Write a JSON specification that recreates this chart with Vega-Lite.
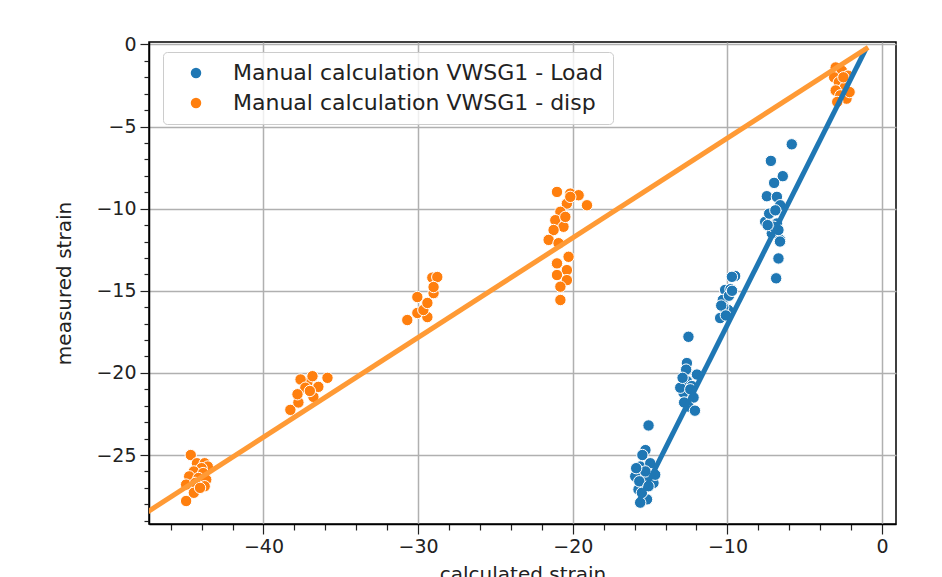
{
  "$schema": "https://vega.github.io/schema/vega-lite/v6.json",
  "autosize": "none",
  "width": 747,
  "height": 482,
  "padding": {"left": 149, "top": 42, "right": 46, "bottom": 53},
  "background": "white",
  "config": {
    "font": "DejaVu Sans",
    "view": {"stroke": "black", "strokeWidth": 1.5},
    "axis": {
      "domainColor": "black",
      "domainWidth": 1.5,
      "tickColor": "#222",
      "tickWidth": 1.2,
      "gridColor": "#b0b0b0",
      "gridWidth": 1.5,
      "labelColor": "#222",
      "titleColor": "#222",
      "labelFont": "DejaVu Sans",
      "titleFont": "DejaVu Sans",
      "labelFontSize": 19,
      "titleFontSize": 20,
      "titleFontWeight": "normal",
      "labelOverlap": false,
      "labelFlush": false
    }
  },
  "datasets": {
    "pts": [
      {"series": "Manual calculation VWSG1 - Load", "calc": -15.1, "meas": -23.2},
      {"series": "Manual calculation VWSG1 - Load", "calc": -15.3, "meas": -24.7},
      {"series": "Manual calculation VWSG1 - Load", "calc": -15.5, "meas": -25.0},
      {"series": "Manual calculation VWSG1 - Load", "calc": -15.64, "meas": -25.7},
      {"series": "Manual calculation VWSG1 - Load", "calc": -14.99, "meas": -25.5},
      {"series": "Manual calculation VWSG1 - Load", "calc": -15.85, "meas": -26.1},
      {"series": "Manual calculation VWSG1 - Load", "calc": -15.42, "meas": -26.5},
      {"series": "Manual calculation VWSG1 - Load", "calc": -14.78, "meas": -26.7},
      {"series": "Manual calculation VWSG1 - Load", "calc": -15.75, "meas": -27.1},
      {"series": "Manual calculation VWSG1 - Load", "calc": -15.2, "meas": -27.7},
      {"series": "Manual calculation VWSG1 - Load", "calc": -15.64, "meas": -27.9},
      {"series": "Manual calculation VWSG1 - Load", "calc": -15.53, "meas": -27.3},
      {"series": "Manual calculation VWSG1 - Load", "calc": -14.67, "meas": -26.2},
      {"series": "Manual calculation VWSG1 - Load", "calc": -15.96, "meas": -26.3},
      {"series": "Manual calculation VWSG1 - Load", "calc": -15.3, "meas": -26.0},
      {"series": "Manual calculation VWSG1 - Load", "calc": -15.7, "meas": -26.6},
      {"series": "Manual calculation VWSG1 - Load", "calc": -15.1, "meas": -26.9},
      {"series": "Manual calculation VWSG1 - Load", "calc": -15.9, "meas": -25.8},
      {"series": "Manual calculation VWSG1 - Load", "calc": -12.52, "meas": -17.8},
      {"series": "Manual calculation VWSG1 - Load", "calc": -12.62, "meas": -19.4},
      {"series": "Manual calculation VWSG1 - Load", "calc": -12.67, "meas": -19.8},
      {"series": "Manual calculation VWSG1 - Load", "calc": -12.62, "meas": -20.5},
      {"series": "Manual calculation VWSG1 - Load", "calc": -12.3, "meas": -20.8},
      {"series": "Manual calculation VWSG1 - Load", "calc": -12.84, "meas": -21.2},
      {"series": "Manual calculation VWSG1 - Load", "calc": -12.19, "meas": -21.5},
      {"series": "Manual calculation VWSG1 - Load", "calc": -12.52, "meas": -22.05},
      {"series": "Manual calculation VWSG1 - Load", "calc": -11.97, "meas": -20.1},
      {"series": "Manual calculation VWSG1 - Load", "calc": -13.05, "meas": -20.9},
      {"series": "Manual calculation VWSG1 - Load", "calc": -12.8, "meas": -21.8},
      {"series": "Manual calculation VWSG1 - Load", "calc": -12.4, "meas": -21.0},
      {"series": "Manual calculation VWSG1 - Load", "calc": -12.9, "meas": -20.3},
      {"series": "Manual calculation VWSG1 - Load", "calc": -12.1, "meas": -22.3},
      {"series": "Manual calculation VWSG1 - Load", "calc": -9.5, "meas": -14.1},
      {"series": "Manual calculation VWSG1 - Load", "calc": -9.71, "meas": -14.15},
      {"series": "Manual calculation VWSG1 - Load", "calc": -10.15, "meas": -14.95},
      {"series": "Manual calculation VWSG1 - Load", "calc": -9.8, "meas": -14.9},
      {"series": "Manual calculation VWSG1 - Load", "calc": -10.3, "meas": -15.56},
      {"series": "Manual calculation VWSG1 - Load", "calc": -9.95, "meas": -16.17},
      {"series": "Manual calculation VWSG1 - Load", "calc": -10.47, "meas": -16.66},
      {"series": "Manual calculation VWSG1 - Load", "calc": -10.27, "meas": -16.0},
      {"series": "Manual calculation VWSG1 - Load", "calc": -9.9, "meas": -15.3},
      {"series": "Manual calculation VWSG1 - Load", "calc": -10.4, "meas": -15.9},
      {"series": "Manual calculation VWSG1 - Load", "calc": -10.1, "meas": -16.5},
      {"series": "Manual calculation VWSG1 - Load", "calc": -9.7, "meas": -15.0},
      {"series": "Manual calculation VWSG1 - Load", "calc": -5.84, "meas": -6.08},
      {"series": "Manual calculation VWSG1 - Load", "calc": -7.19, "meas": -7.09},
      {"series": "Manual calculation VWSG1 - Load", "calc": -6.42, "meas": -8.02},
      {"series": "Manual calculation VWSG1 - Load", "calc": -6.98, "meas": -8.43},
      {"series": "Manual calculation VWSG1 - Load", "calc": -7.45, "meas": -9.24},
      {"series": "Manual calculation VWSG1 - Load", "calc": -6.8, "meas": -9.28},
      {"series": "Manual calculation VWSG1 - Load", "calc": -6.59, "meas": -9.79},
      {"series": "Manual calculation VWSG1 - Load", "calc": -7.56, "meas": -10.8},
      {"series": "Manual calculation VWSG1 - Load", "calc": -6.8, "meas": -10.9},
      {"series": "Manual calculation VWSG1 - Load", "calc": -7.13, "meas": -11.5},
      {"series": "Manual calculation VWSG1 - Load", "calc": -6.59, "meas": -11.9},
      {"series": "Manual calculation VWSG1 - Load", "calc": -6.7, "meas": -13.03},
      {"series": "Manual calculation VWSG1 - Load", "calc": -6.85, "meas": -14.24},
      {"series": "Manual calculation VWSG1 - Load", "calc": -7.3, "meas": -10.3},
      {"series": "Manual calculation VWSG1 - Load", "calc": -6.9, "meas": -10.1},
      {"series": "Manual calculation VWSG1 - Load", "calc": -7.0, "meas": -11.1},
      {"series": "Manual calculation VWSG1 - Load", "calc": -6.7, "meas": -11.3},
      {"series": "Manual calculation VWSG1 - Load", "calc": -7.4, "meas": -11.0},
      {"series": "Manual calculation VWSG1 - Load", "calc": -6.6, "meas": -12.0},
      {"series": "Manual calculation VWSG1 - disp", "calc": -44.7, "meas": -25.0},
      {"series": "Manual calculation VWSG1 - disp", "calc": -44.3, "meas": -25.5},
      {"series": "Manual calculation VWSG1 - disp", "calc": -43.8, "meas": -25.5},
      {"series": "Manual calculation VWSG1 - disp", "calc": -43.6, "meas": -25.7},
      {"series": "Manual calculation VWSG1 - disp", "calc": -44.0, "meas": -25.8},
      {"series": "Manual calculation VWSG1 - disp", "calc": -44.5, "meas": -26.0},
      {"series": "Manual calculation VWSG1 - disp", "calc": -43.9, "meas": -26.1},
      {"series": "Manual calculation VWSG1 - disp", "calc": -44.8, "meas": -26.3},
      {"series": "Manual calculation VWSG1 - disp", "calc": -44.2, "meas": -26.4},
      {"series": "Manual calculation VWSG1 - disp", "calc": -43.7, "meas": -26.5},
      {"series": "Manual calculation VWSG1 - disp", "calc": -45.0, "meas": -26.8},
      {"series": "Manual calculation VWSG1 - disp", "calc": -44.4, "meas": -26.7},
      {"series": "Manual calculation VWSG1 - disp", "calc": -43.8, "meas": -26.9},
      {"series": "Manual calculation VWSG1 - disp", "calc": -44.5, "meas": -27.3},
      {"series": "Manual calculation VWSG1 - disp", "calc": -45.0, "meas": -27.8},
      {"series": "Manual calculation VWSG1 - disp", "calc": -44.1, "meas": -27.0},
      {"series": "Manual calculation VWSG1 - disp", "calc": -38.26, "meas": -22.25},
      {"series": "Manual calculation VWSG1 - disp", "calc": -37.74, "meas": -21.8},
      {"series": "Manual calculation VWSG1 - disp", "calc": -37.16, "meas": -20.6},
      {"series": "Manual calculation VWSG1 - disp", "calc": -37.6, "meas": -20.4},
      {"series": "Manual calculation VWSG1 - disp", "calc": -36.83, "meas": -20.2},
      {"series": "Manual calculation VWSG1 - disp", "calc": -35.86, "meas": -20.3},
      {"series": "Manual calculation VWSG1 - disp", "calc": -36.77, "meas": -21.46},
      {"series": "Manual calculation VWSG1 - disp", "calc": -37.29, "meas": -20.9},
      {"series": "Manual calculation VWSG1 - disp", "calc": -37.8, "meas": -21.3},
      {"series": "Manual calculation VWSG1 - disp", "calc": -36.45, "meas": -20.85},
      {"series": "Manual calculation VWSG1 - disp", "calc": -37.0, "meas": -21.1},
      {"series": "Manual calculation VWSG1 - disp", "calc": -30.7, "meas": -16.78},
      {"series": "Manual calculation VWSG1 - disp", "calc": -30.05, "meas": -16.35},
      {"series": "Manual calculation VWSG1 - disp", "calc": -29.4, "meas": -16.6},
      {"series": "Manual calculation VWSG1 - disp", "calc": -29.66, "meas": -16.17},
      {"series": "Manual calculation VWSG1 - disp", "calc": -29.0, "meas": -15.14},
      {"series": "Manual calculation VWSG1 - disp", "calc": -29.08, "meas": -14.2},
      {"series": "Manual calculation VWSG1 - disp", "calc": -28.76, "meas": -14.16},
      {"series": "Manual calculation VWSG1 - disp", "calc": -29.4, "meas": -15.74},
      {"series": "Manual calculation VWSG1 - disp", "calc": -30.05, "meas": -15.38},
      {"series": "Manual calculation VWSG1 - disp", "calc": -29.0, "meas": -14.77},
      {"series": "Manual calculation VWSG1 - disp", "calc": -21.02, "meas": -8.98},
      {"series": "Manual calculation VWSG1 - disp", "calc": -20.16, "meas": -9.08},
      {"series": "Manual calculation VWSG1 - disp", "calc": -19.62, "meas": -9.18},
      {"series": "Manual calculation VWSG1 - disp", "calc": -19.08, "meas": -9.79},
      {"series": "Manual calculation VWSG1 - disp", "calc": -20.38, "meas": -9.69},
      {"series": "Manual calculation VWSG1 - disp", "calc": -20.8, "meas": -10.19},
      {"series": "Manual calculation VWSG1 - disp", "calc": -21.13, "meas": -10.7},
      {"series": "Manual calculation VWSG1 - disp", "calc": -20.6, "meas": -11.1},
      {"series": "Manual calculation VWSG1 - disp", "calc": -21.24, "meas": -11.3},
      {"series": "Manual calculation VWSG1 - disp", "calc": -21.56, "meas": -11.9},
      {"series": "Manual calculation VWSG1 - disp", "calc": -20.92, "meas": -12.1},
      {"series": "Manual calculation VWSG1 - disp", "calc": -20.27, "meas": -12.93},
      {"series": "Manual calculation VWSG1 - disp", "calc": -21.02, "meas": -13.33},
      {"series": "Manual calculation VWSG1 - disp", "calc": -20.38, "meas": -13.74},
      {"series": "Manual calculation VWSG1 - disp", "calc": -21.02, "meas": -14.04},
      {"series": "Manual calculation VWSG1 - disp", "calc": -20.38, "meas": -14.35},
      {"series": "Manual calculation VWSG1 - disp", "calc": -20.8, "meas": -14.75},
      {"series": "Manual calculation VWSG1 - disp", "calc": -20.8, "meas": -15.56},
      {"series": "Manual calculation VWSG1 - disp", "calc": -20.16, "meas": -9.28},
      {"series": "Manual calculation VWSG1 - disp", "calc": -20.48, "meas": -10.5},
      {"series": "Manual calculation VWSG1 - disp", "calc": -3.0, "meas": -1.4},
      {"series": "Manual calculation VWSG1 - disp", "calc": -2.6, "meas": -1.6},
      {"series": "Manual calculation VWSG1 - disp", "calc": -2.2, "meas": -1.9},
      {"series": "Manual calculation VWSG1 - disp", "calc": -3.1, "meas": -2.0},
      {"series": "Manual calculation VWSG1 - disp", "calc": -2.8, "meas": -2.3},
      {"series": "Manual calculation VWSG1 - disp", "calc": -2.4, "meas": -2.6},
      {"series": "Manual calculation VWSG1 - disp", "calc": -3.0, "meas": -2.8},
      {"series": "Manual calculation VWSG1 - disp", "calc": -2.7, "meas": -3.1},
      {"series": "Manual calculation VWSG1 - disp", "calc": -2.3, "meas": -3.3},
      {"series": "Manual calculation VWSG1 - disp", "calc": -2.9, "meas": -3.5},
      {"series": "Manual calculation VWSG1 - disp", "calc": -2.5, "meas": -2.0},
      {"series": "Manual calculation VWSG1 - disp", "calc": -2.1, "meas": -2.9}
    ],
    "fits": [
      {"fit": "load", "calc": -15.83, "meas": -28.0},
      {"fit": "load", "calc": -1.03, "meas": -0.24},
      {"fit": "disp", "calc": -48.0, "meas": -28.77},
      {"fit": "disp", "calc": -0.9, "meas": -0.18}
    ]
  },
  "encoding": {
    "x": {
      "field": "calc", "type": "quantitative",
      "scale": {"domain": [-47.4, 0.9], "nice": false, "zero": false},
      "axis": {
        "title": "calculated strain",
        "titlePadding": 8,
        "values": [-46, -44, -42, -40, -38, -36, -34, -32, -30, -28, -26, -24, -22, -20, -18, -16, -14, -12, -10, -8, -6, -4, -2, 0],
        "labelExpr": "abs(datum.value) % 10 < 0.01 ? datum.label : ''",
        "tickSize": {"condition": {"test": "abs(datum.value) % 10 < 0.01", "value": 10}, "value": 6},
        "gridOpacity": {"condition": {"test": "abs(datum.value) % 10 < 0.01", "value": 1}, "value": 0},
        "labelPadding": 3,
        "labelFlush": false,
        "labelOverlap": false
      }
    },
    "y": {
      "field": "meas", "type": "quantitative",
      "scale": {"domain": [-29.2, 0.15], "nice": false, "zero": false},
      "axis": {
        "title": "measured strain",
        "titlePadding": 21,
        "values": [-29, -28, -27, -26, -25, -24, -23, -22, -21, -20, -19, -18, -17, -16, -15, -14, -13, -12, -11, -10, -9, -8, -7, -6, -5, -4, -3, -2, -1, 0],
        "labelExpr": "abs(datum.value) % 5 < 0.01 ? datum.label : ''",
        "tickSize": {"condition": {"test": "abs(datum.value) % 5 < 0.01", "value": 9}, "value": 5},
        "gridOpacity": {"condition": {"test": "abs(datum.value) % 5 < 0.01", "value": 1}, "value": 0},
        "labelPadding": 4,
        "labelFlush": false,
        "labelOverlap": false
      }
    }
  },
  "layer": [
    {
      "data": {"name": "pts"},
      "mark": {"type": "point", "filled": true, "size": 130, "stroke": "white", "strokeWidth": 1, "opacity": 1, "clip": true},
      "encoding": {
        "color": {
          "field": "series", "type": "nominal",
          "scale": {"domain": ["Manual calculation VWSG1 - Load", "Manual calculation VWSG1 - disp"], "range": ["#1f77b4", "#ff7f0e"]},
          "legend": {
            "title": null,
            "orient": "none",
            "legendX": 14,
            "legendY": 10,
            "labelFontSize": 22,
            "labelFont": "DejaVu Sans",
            "labelColor": "#222",
            "symbolType": "circle",
            "symbolSize": 110,
            "symbolStrokeWidth": 0,
            "symbolOffset": 12,
            "labelOffset": 26,
            "rowPadding": 8,
            "padding": 10,
            "strokeColor": "#cccccc",
            "fillColor": "rgba(255,255,255,0.8)",
            "cornerRadius": 4,
            "labelLimit": 600
          }
        }
      }
    },
    {
      "data": {"name": "fits"},
      "mark": {"type": "line", "strokeWidth": 5, "clip": true},
      "encoding": {
        "detail": {"field": "fit", "type": "nominal"},
        "stroke": {
          "field": "fit", "type": "nominal",
          "scale": {"domain": ["load", "disp"], "range": ["#1f77b4", "#ff9a35"]},
          "legend": null
        }
      }
    }
  ]
}
